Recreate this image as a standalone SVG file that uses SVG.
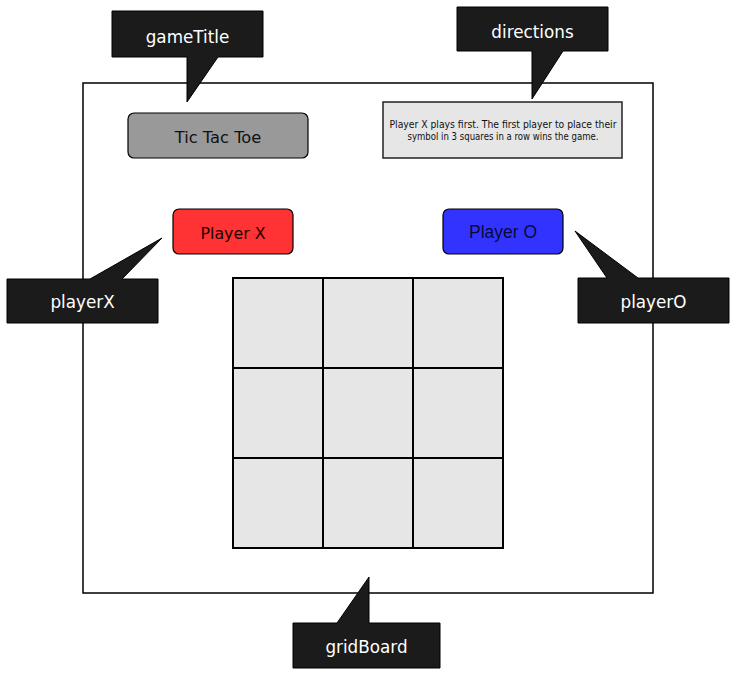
<svg xmlns="http://www.w3.org/2000/svg" width="737" height="678" viewBox="0 0 737 678">
<style>
.callout{fill:#1b1b1b;stroke:#000;stroke-width:1}
.clabel{font-family:"DejaVu Sans","Liberation Sans",sans-serif;font-size:16.8px;fill:#fff;text-anchor:middle}
.cell{fill:#e6e6e6;stroke:#000;stroke-width:2}
.btn{stroke:#000;stroke-width:1.2}
.t{font-family:"DejaVu Sans","Liberation Sans",sans-serif;text-anchor:middle}
</style>
<rect width="737" height="678" fill="#fff"/>
<g id="gridBoard">
<rect x="83" y="83" width="570" height="510" fill="#fff" stroke="#000" stroke-width="1.5"/>
<g id="grid">
<rect class="cell" x="233" y="278" width="90" height="90"/>
<rect class="cell" x="323" y="278" width="90" height="90"/>
<rect class="cell" x="413" y="278" width="90" height="90"/>
<rect class="cell" x="233" y="368" width="90" height="90"/>
<rect class="cell" x="323" y="368" width="90" height="90"/>
<rect class="cell" x="413" y="368" width="90" height="90"/>
<rect class="cell" x="233" y="458" width="90" height="90"/>
<rect class="cell" x="323" y="458" width="90" height="90"/>
<rect class="cell" x="413" y="458" width="90" height="90"/>
</g>
</g>
<g id="gameTitle">
<rect class="btn" x="128" y="113" width="180" height="45" rx="6" fill="#999999"/>
<text class="t" x="218" y="142.5" font-size="16.3" fill="#111">Tic Tac Toe</text>
</g>
<g id="directions">
<rect x="383" y="102" width="239" height="56" fill="#e6e6e6" stroke="#222" stroke-width="1.5"/>
<text class="t" x="503" y="128" font-size="10.5" fill="#111" textLength="227" lengthAdjust="spacingAndGlyphs">Player X plays first. The first player to place their</text>
<text class="t" x="503" y="139.5" font-size="10.5" fill="#111" textLength="191" lengthAdjust="spacingAndGlyphs">symbol in 3 squares in a row wins the game.</text>
</g>
<g id="playerX">
<rect class="btn" x="173" y="209" width="120" height="45" rx="6" fill="#ff3333"/>
<text class="t" x="233" y="239" font-size="15.8" fill="#220000">Player X</text>
</g>
<g id="playerO">
<rect class="btn" x="443" y="209" width="120" height="45" rx="6" fill="#3333ff"/>
<text x="503" y="237.5" font-family="'Liberation Sans',Arial,sans-serif" font-size="17.5" text-anchor="middle" fill="#0a0a3a">Player O</text>
</g>
<g id="callouts">
<g id="callout-gameTitle">
<path class="callout" d="M112,11 H263 V57 H218 L187,102 V57 H112 Z"/>
<text class="clabel" x="187.5" y="43">gameTitle</text>
</g>
<g id="callout-directions">
<path class="callout" d="M457,7 H608 V51 H563 L532,99 V51 H457 Z"/>
<text class="clabel" x="532.5" y="38">directions</text>
</g>
<g id="callout-playerX">
<path class="callout" d="M7,279 H90 L162,238 L122,279 H158 V323 H7 Z"/>
<text class="clabel" x="82.5" y="308">playerX</text>
</g>
<g id="callout-playerO">
<path class="callout" d="M578,278 H607 L575,231 L638,278 H729 V323 H578 Z"/>
<text class="clabel" x="653.5" y="308">playerO</text>
</g>
<g id="callout-gridBoard">
<path class="callout" d="M293,623 H337 L369,577 V623 H440 V668 H293 Z"/>
<text class="clabel" x="366.5" y="653">gridBoard</text>
</g>
</g>
</svg>
